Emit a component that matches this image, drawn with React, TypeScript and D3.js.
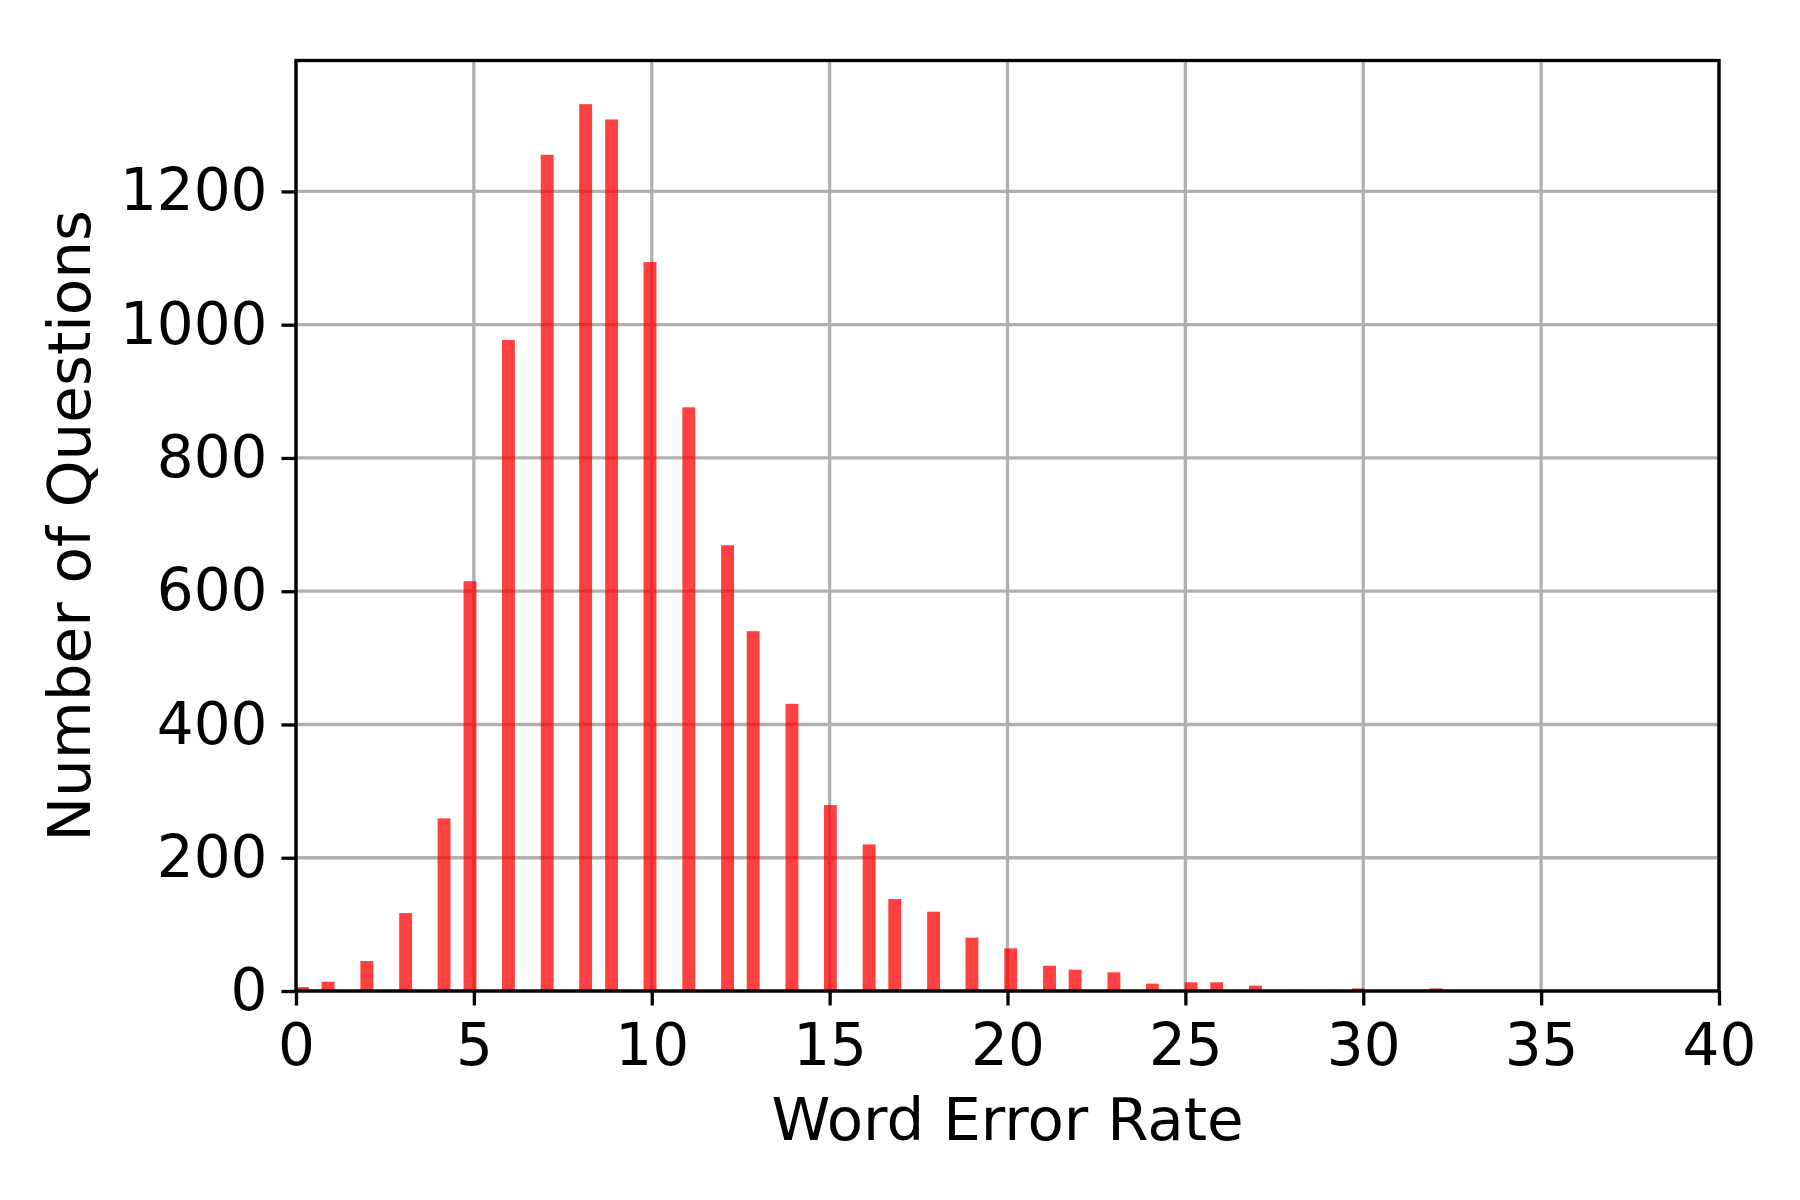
import React, { useEffect, useRef } from 'react';
import * as d3 from 'd3';

// histogram bins (left edge of each WER bin) and counts
const binWidth = 0.362;
const werBins = [
  0, 0.72, 1.81, 2.9, 3.98, 4.71, 5.79, 6.88, 7.96, 8.69, 9.77, 10.86,
  11.95, 12.67, 13.76, 14.84, 15.93, 16.65, 17.74, 18.82, 19.91, 21.0,
  21.72, 22.81, 23.89, 24.98, 25.7, 26.79, 27.87, 28.96, 29.68, 31.86,
];
const questionCounts = [
  6, 14, 45, 117, 259, 615, 977, 1255, 1331, 1308, 1094, 876,
  669, 540, 431, 279, 220, 138, 119, 80, 64, 38,
  32, 28, 11, 13, 13, 8, 2, 2, 4, 4,
];
const xTicks = [0, 5, 10, 15, 20, 25, 30, 35, 40];
const yTicks = [0, 200, 400, 600, 800, 1000, 1200];

const App = () => {
  const svgRef = useRef<SVGSVGElement | null>(null);

  useEffect(() => {
    if (!svgRef.current) return;

    const width = 1800;
    const height = 1200;
    const margin = { top: 60.5, right: 81, bottom: 209, left: 296 };
    const innerW = width - margin.left - margin.right;
    const innerH = height - margin.top - margin.bottom;
    const font = '"DejaVu Sans", sans-serif';
    const tickSize = 58;
    const labelSize = 59.5;
    const lw = 3.3;

    const svg = d3.select(svgRef.current)
      .attr('width', width)
      .attr('height', height)
      .attr('viewBox', `0 0 ${width} ${height}`)
      .style('font-family', font);

    svg.selectAll('*').remove();

    svg.append('rect')
      .attr('width', width)
      .attr('height', height)
      .attr('fill', '#ffffff');

    const x = d3.scaleLinear().domain([0, 40]).range([0, innerW]);
    const y = d3.scaleLinear().domain([0, 1396.5]).range([innerH, 0]);

    const g = svg.append('g')
      .attr('transform', `translate(${margin.left},${margin.top})`);

    // grid
    g.append('g')
      .selectAll('line')
      .data(xTicks)
      .enter()
      .append('line')
      .attr('x1', d => x(d))
      .attr('x2', d => x(d))
      .attr('y1', 0)
      .attr('y2', innerH)
      .attr('stroke', '#b0b0b0')
      .attr('stroke-width', lw);

    g.append('g')
      .selectAll('line')
      .data(yTicks)
      .enter()
      .append('line')
      .attr('x1', 0)
      .attr('x2', innerW)
      .attr('y1', d => y(d))
      .attr('y2', d => y(d))
      .attr('stroke', '#b0b0b0')
      .attr('stroke-width', lw);

    // bars
    const bins = werBins.map((b, i) => ({ x0: b, count: questionCounts[i] }));
    g.append('g')
      .selectAll('rect')
      .data(bins)
      .enter()
      .append('rect')
      .attr('x', d => x(d.x0))
      .attr('width', x(binWidth) - x(0))
      .attr('y', d => y(d.count))
      .attr('height', d => y(0) - y(d.count))
      .attr('fill', '#ff0000')
      .attr('fill-opacity', 0.75);

    // axes with ticks
    const xAxis = g.append('g')
      .attr('transform', `translate(0,${innerH})`)
      .call(d3.axisBottom(x).tickValues(xTicks).tickFormat(d3.format('d'))
        .tickSize(14.5).tickPadding(14).tickSizeOuter(0));
    const yAxis = g.append('g')
      .call(d3.axisLeft(y).tickValues(yTicks).tickFormat(d3.format('d'))
        .tickSize(14.5).tickPadding(14).tickSizeOuter(0));

    [xAxis, yAxis].forEach(ax => {
      ax.select('.domain').remove();
      ax.selectAll('.tick line')
        .attr('stroke', '#000')
        .attr('stroke-width', lw);
      ax.selectAll('.tick text')
        .attr('fill', '#000')
        .style('font-family', font)
        .style('font-size', `${tickSize}px`);
    });
    xAxis.selectAll('.tick text').attr('dy', '0.78em');

    // frame
    g.append('rect')
      .attr('x', 0)
      .attr('y', 0)
      .attr('width', innerW)
      .attr('height', innerH)
      .attr('fill', 'none')
      .attr('stroke', '#000')
      .attr('stroke-width', lw);

    // labels
    svg.append('text')
      .attr('x', margin.left + innerW / 2)
      .attr('y', 1140)
      .attr('text-anchor', 'middle')
      .style('font-size', `${labelSize}px`)
      .attr('fill', '#000')
      .text('Word Error Rate');

    svg.append('text')
      .attr('transform', `translate(90,${margin.top + innerH / 2}) rotate(-90)`)
      .attr('text-anchor', 'middle')
      .style('font-size', `${labelSize}px`)
      .attr('fill', '#000')
      .text('Number of Questions');
  }, []);

  return (
    <div style={{ position: 'absolute', left: 0, top: 0 }}>
      <svg ref={svgRef} style={{ display: 'block' }}></svg>
    </div>
  );
};

export default App;
